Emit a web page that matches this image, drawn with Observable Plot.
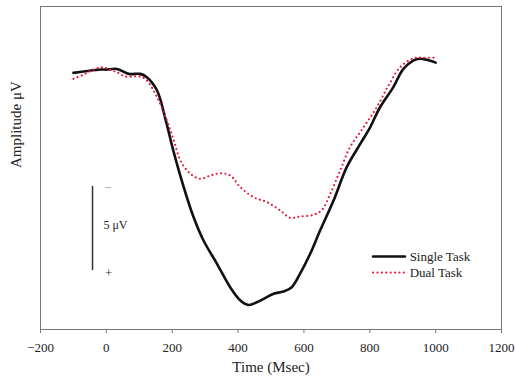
<!DOCTYPE html>
<html><head><meta charset="utf-8">
<script src="https://cdn.jsdelivr.net/npm/d3@7"></script>
<script src="https://cdn.jsdelivr.net/npm/@observablehq/plot@0.6"></script>
<style>body{margin:0;background:#fff}</style>
</head><body><div id="chart"></div>
<script>
// Time (ms) and amplitude (µV, positive plotted downward)
const singleTime = [-100,-69,-18,2,32,68,103,123,154,180,204,235,265,295,336,376,407,432,457,478,508,538,563,588,619,649,690,730,771,801,831,871,902,932,952,973,1000];
const singleAmp  = [0.02,-0.06,-0.18,-0.18,-0.22,0.08,0.08,0.28,1.08,2.85,4.75,6.91,8.72,10.12,11.52,12.93,13.73,14.0,13.84,13.63,13.33,13.19,12.93,12.13,10.92,9.52,7.71,5.70,4.30,3.30,2.09,0.89,-0.22,-0.72,-0.83,-0.77,-0.60];
const dualTime = [-100,-69,-39,-13,12,32,58,103,123,154,184,205,225,255,285,316,346,376,407,447,488,528,558,589,629,655,680,710,740,781,821,857,892,933,963,1000];
const dualAmp  = [0.38,0.12,-0.18,-0.32,-0.16,-0.02,0.24,0.24,0.48,1.49,2.89,4.10,5.30,6.10,6.40,6.20,6.07,6.20,6.91,7.51,7.81,8.31,8.75,8.67,8.57,8.27,7.31,5.90,4.50,3.30,2.09,0.78,-0.32,-0.86,-0.89,-0.89];
const xTicks = [-200,0,200,400,600,800,1000,1200];
const seriesNames = ["Single Task","Dual Task"];
// calibration bar: 5 µV
const barTime = -42;
const barAmp = [6.87, 11.87];
const barLabels = [{t:-3, v:6.87, s:"–"},{t:-9, v:9.2, s:"5 μV"},{t:-3, v:12.1, s:"+"}];
// legend positions (data units)
const legendLine = [810, 907];
const legendAmp = [11.08, 12.05];
const legendTextTime = 921;

const single = singleTime.map((t,i)=>({t, v:singleAmp[i]}));
const dual = dualTime.map((t,i)=>({t, v:dualAmp[i]}));
const RED = "#e8173c";

const chart = Plot.plot({
  width: 516, height: 378,
  marginLeft: 40, marginRight: 15, marginTop: 6, marginBottom: 49,
  style: {fontFamily: "Liberation Serif", fontSize: "13px", color: "#222", background: "#fff"},
  x: {domain: [-200, 1200]},
  y: {domain: [15.48, -3.98], axis: null},
  marks: [
    Plot.frame({stroke: "#777", strokeWidth: 1}),
    Plot.axisX({ticks: xTicks, tickSize: 4, tickPadding: 9, label: null, stroke: "#777", tickFormat: d => d < 0 ? "\u2212" + Math.abs(d) : String(d), fontSize: 13}),
    Plot.text(["Time (Msec)"], {frameAnchor: "bottom", dy: 42, fontSize: 15}),
    Plot.text(["Amplitude μV"], {frameAnchor: "left", dx: -24, rotate: -90, fontSize: 15}),
    Plot.line(single, {x: "t", y: "v", stroke: "#111", strokeWidth: 2.6, curve: "catmull-rom"}),
    Plot.line(dual, {x: "t", y: "v", stroke: RED, strokeWidth: 2.2, strokeDasharray: "0 4.4", strokeLinecap: "round", curve: "catmull-rom"}),
    // calibration bar
    Plot.line(barAmp.map(v=>({t: barTime, v})), {x: "t", y: "v", stroke: "#333", strokeWidth: 1.5}),
    Plot.text(barLabels, {x: "t", y: "v", text: "s", textAnchor: "start", fontSize: 12, fill: d => d.s === "–" ? "#999" : "#222"}),
    // legend
    Plot.line(legendLine.map(t=>({t, v: legendAmp[0]})), {x: "t", y: "v", stroke: "#111", strokeWidth: 2.6}),
    Plot.line(legendLine.map(t=>({t, v: legendAmp[1]})), {x: "t", y: "v", stroke: RED, strokeWidth: 2.2, strokeDasharray: "0 4.4", strokeLinecap: "round"}),
    Plot.text(seriesNames.map((s,i)=>({s, v: legendAmp[i]})), {x: () => legendTextTime, y: "v", text: "s", textAnchor: "start", fontSize: 13})
  ]
});
document.getElementById("chart").appendChild(chart);
</script>
</body></html>
